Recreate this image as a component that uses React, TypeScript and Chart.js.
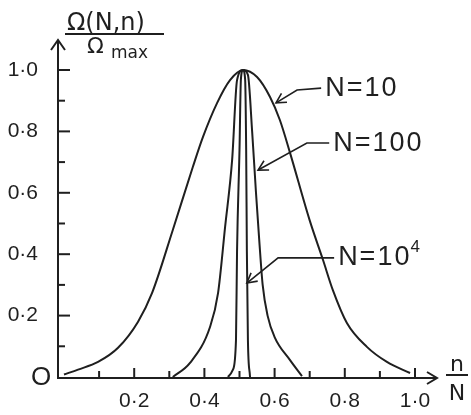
import React, { useEffect, useRef } from "react";
import { Chart, registerables } from "chart.js";

Chart.register(...registerables);

// N = 10 curve (n/N, Ω/Ωmax)
const n10X = [0, 0.04, 0.097, 0.154, 0.211, 0.251, 0.31, 0.367, 0.396, 0.436, 0.473, 0.51, 0.55, 0.587, 0.615, 0.644, 0.7, 0.738, 0.766, 0.806, 0.863, 0.92, 0.986];
const n10Y = [0.008, 0.024, 0.049, 0.095, 0.18, 0.274, 0.479, 0.684, 0.782, 0.892, 0.967, 1.0, 0.977, 0.912, 0.837, 0.73, 0.51, 0.381, 0.283, 0.176, 0.098, 0.049, 0.013];
// N = 100 curve
const n100X = [0.31, 0.359, 0.416, 0.439, 0.459, 0.479, 0.493, 0.51, 0.524, 0.536, 0.547, 0.556, 0.566, 0.58, 0.6, 0.644, 0.678];
const n100Y = [0, 0.046, 0.163, 0.274, 0.489, 0.707, 0.967, 1.0, 0.984, 0.8, 0.6, 0.45, 0.3, 0.2, 0.13, 0.055, 0.003];
// N = 10^4 curve
const n1e4X = [0.467, 0.481, 0.49, 0.493, 0.5, 0.504, 0.51, 0.516, 0.519, 0.521, 0.524, 0.53];
const n1e4Y = [0, 0.023, 0.12, 0.41, 0.74, 0.97, 1.0, 0.97, 0.74, 0.41, 0.12, 0];

const xTickValues = [0.2, 0.4, 0.6, 0.8, 1.0];
const yTickValues = [0.2, 0.4, 0.6, 0.8, 1.0];
const minorTickValues = [0.1, 0.2, 0.3, 0.4, 0.5, 0.6, 0.7, 0.8, 0.9, 1.0];

// curve labels: text, superscript, label anchor (data), elbow (data), arrow tip (data)
const curveLabels = ["N=10", "N=100", "N=10"];
const curveLabelSup = ["", "", "4"];
const labelAnchorX = [0.744, 0.767, 0.781];
const labelAnchorY = [0.941, 0.762, 0.388];
const elbowX = [0.664, 0.692, 0.61];
const elbowY = [0.935, 0.762, 0.388];
const tipX = [0.604, 0.553, 0.521];
const tipY = [0.893, 0.674, 0.306];

const INK = "#1f1f1f";

const toPts = (xs: number[], ys: number[]) => xs.map((x, i) => ({ x, y: ys[i] }));

const fmt = (v: number) => v.toFixed(1).replace(".", "\u00b7");

const line = (ctx: CanvasRenderingContext2D, pts: number[][]) => {
  ctx.beginPath();
  ctx.moveTo(pts[0][0], pts[0][1]);
  for (let i = 1; i < pts.length; i++) ctx.lineTo(pts[i][0], pts[i][1]);
  ctx.stroke();
};

const decorPlugin = {
  id: "decor",
  afterDraw(chart: any) {
    const ctx = chart.ctx as CanvasRenderingContext2D;
    const xs = chart.scales.x;
    const ys = chart.scales.y;
    const ca = chart.chartArea;
    const ax = ca.left;
    const ay = ca.bottom;
    ctx.save();
    ctx.strokeStyle = INK;
    ctx.fillStyle = INK;
    ctx.lineWidth = 2;

    // axes
    line(ctx, [[ax, ay + 1], [ax, ca.top]]);
    line(ctx, [[ax - 1, ay], [ca.right, ay]]);

    // ticks
    for (const v of minorTickValues) {
      const major = Math.abs(v * 5 - Math.round(v * 5)) < 1e-6;
      const yp = ys.getPixelForValue(v);
      line(ctx, [[ax, yp], [ax + (major ? 12 : 7), yp]]);
      const xp = xs.getPixelForValue(v);
      line(ctx, [[xp, ay], [xp, ay - (major ? 10 : 7)]]);
    }

    // axis arrows
    line(ctx, [[ax - 7, ca.top + 10], [ax, ca.top], [ax + 7, ca.top + 10]]);
    line(ctx, [[ca.right - 10, ay - 6], [ca.right, ay], [ca.right - 10, ay + 6]]);

    // origin label
    ctx.font = "26px 'Liberation Sans'";
    ctx.textAlign = "center";
    ctx.textBaseline = "middle";
    ctx.fillText("O", ax - 17, ay);

    // y title fraction
    ctx.textAlign = "left";
    ctx.textBaseline = "alphabetic";
    ctx.font = "24px 'DejaVu Sans'";
    ctx.fillText("\u03a9(N,n)", ax + 9, ca.top - 10);
    line(ctx, [[ax + 7, ca.top - 6], [ax + 106, ca.top - 6]]);
    ctx.font = "22px 'DejaVu Sans'";
    ctx.fillText("\u03a9", ax + 29, ca.top + 13);
    ctx.font = "17px 'DejaVu Sans'";
    ctx.fillText("max", ax + 53, ca.top + 18);

    // x title fraction
    ctx.textAlign = "center";
    ctx.font = "22px 'DejaVu Sans'";
    ctx.fillText("n", ca.right + 20, ay - 7);
    line(ctx, [[ca.right + 9, ay - 3], [ca.right + 31, ay - 3]]);
    ctx.fillText("N", ca.right + 20, ay + 22);

    // curve labels with arrows
    curveLabels.forEach((t, i) => {
      const lx = xs.getPixelForValue(labelAnchorX[i]);
      const ly = ys.getPixelForValue(labelAnchorY[i]);
      const ex = xs.getPixelForValue(elbowX[i]);
      const ey = ys.getPixelForValue(elbowY[i]);
      const tx = xs.getPixelForValue(tipX[i]);
      const ty = ys.getPixelForValue(tipY[i]);
      ctx.lineWidth = 1.6;
      line(ctx, [[lx - 4, ly], [ex, ey], [tx, ty]]);
      const ang = Math.atan2(ty - ey, tx - ex);
      const hl = 11;
      line(ctx, [
        [tx - hl * Math.cos(ang - 0.5), ty - hl * Math.sin(ang - 0.5)],
        [tx, ty],
        [tx - hl * Math.cos(ang + 0.5), ty - hl * Math.sin(ang + 0.5)],
      ]);
      ctx.textAlign = "left";
      ctx.textBaseline = "middle";
      ctx.font = "27px 'Liberation Sans'";
      (ctx as any).letterSpacing = "2px";
      ctx.fillText(t, lx, ly);
      const w = ctx.measureText(t).width;
      if (curveLabelSup[i]) {
        ctx.font = "17px 'Liberation Sans'";
        ctx.fillText(curveLabelSup[i], lx + w - 1, ly - 11);
      }
      (ctx as any).letterSpacing = "0px";
    });
    ctx.restore();
  },
};

export default function App() {
  const ref = useRef<HTMLCanvasElement | null>(null);
  useEffect(() => {
    if (!ref.current) return;
    const lineStyle = {
      borderColor: INK,
      borderWidth: 2,
      pointRadius: 0,
      fill: false,
      cubicInterpolationMode: "monotone" as const,
    };
    const chart = new Chart(ref.current, {
      type: "line",
      data: {
        datasets: [
          { label: "N=10", data: toPts(n10X, n10Y), ...lineStyle },
          { label: "N=100", data: toPts(n100X, n100Y), ...lineStyle },
          { label: "N=10^4", data: toPts(n1e4X, n1e4Y), ...lineStyle },
        ],
      },
      options: {
        animation: false,
        responsive: true,
        maintainAspectRatio: false,
        layout: { padding: { top: 40, right: 34, left: 0, bottom: 0 } },
        plugins: { legend: { display: false }, tooltip: { enabled: false } },
        scales: {
          x: {
            type: "linear",
            min: -0.0171,
            max: 1.0627,
            grid: { display: false, drawTicks: false },
            border: { display: false },
            afterBuildTicks: (s: any) => {
              s.ticks = xTickValues.map((v) => ({ value: v }));
            },
            afterFit: (s: any) => {
              s.height = 37;
            },
            ticks: {
              padding: 11,
              maxRotation: 0,
              autoSkip: false,
              color: INK,
              font: { family: "'Liberation Sans'", size: 21 },
              callback: (v: any) => fmt(Number(v)),
            },
          },
          y: {
            type: "linear",
            min: -0.0033,
            max: 1.0977,
            grid: { display: false, drawTicks: false },
            border: { display: false },
            afterBuildTicks: (s: any) => {
              s.ticks = yTickValues.map((v) => ({ value: v }));
            },
            afterFit: (s: any) => {
              s.width = 58;
            },
            ticks: {
              padding: 20,
              autoSkip: false,
              color: INK,
              font: { family: "'Liberation Sans'", size: 21 },
              callback: (v: any) => fmt(Number(v)),
            },
          },
        },
      },
      plugins: [decorPlugin],
    });
    return () => chart.destroy();
  }, []);
  return (
    <div style={{ position: "fixed", left: 0, top: 0, width: 471, height: 415, background: "#fff" }}>
      <canvas ref={ref} />
    </div>
  );
}
